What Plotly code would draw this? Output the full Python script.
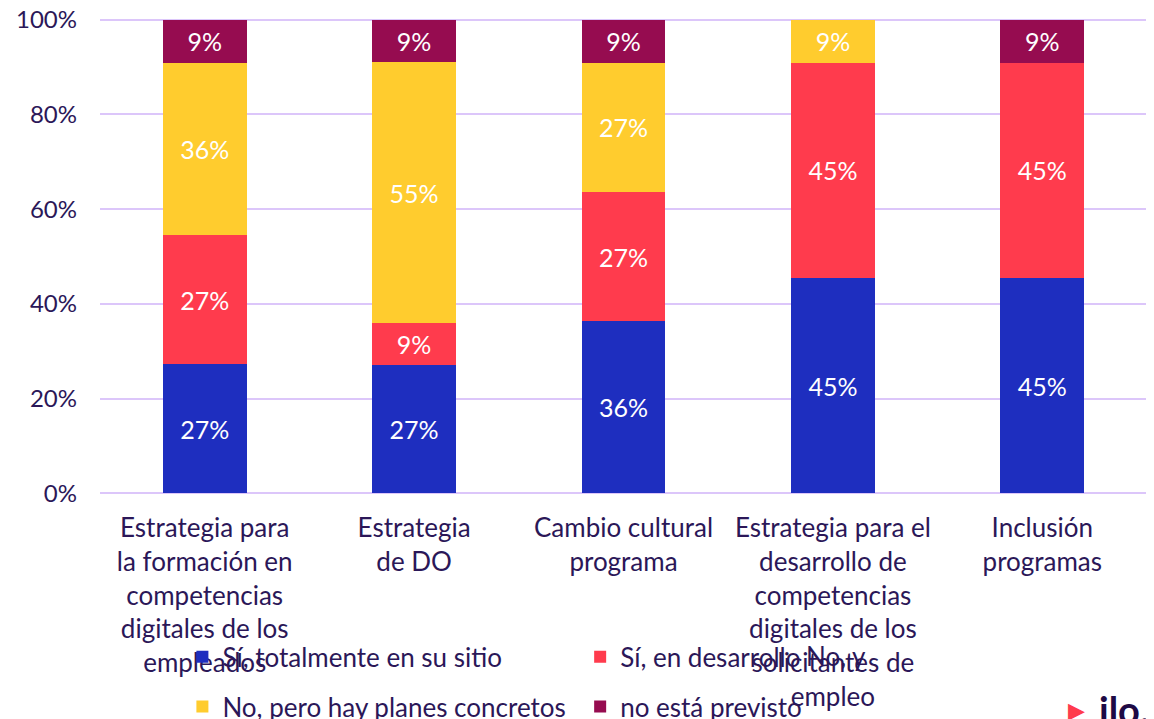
import plotly.graph_objects as go

categories = [
    "Estrategia para<br>la formación en<br>competencias<br>digitales de los<br>empleados",
    "Estrategia<br>de DO",
    "Cambio cultural<br>programa",
    "Estrategia para el<br>desarrollo de<br>competencias<br>digitales de los<br>solicitantes de<br>empleo",
    "Inclusión<br>programas",
]
series_names = [
    "Sí, totalmente en su sitio",
    "Sí, en desarrollo",
    "No, pero hay planes concretos",
    "no está previsto",
]
si_total = [27, 27, 36, 45, 45]
si_desarrollo = [27, 9, 27, 45, 45]
no_planes = [36, 55, 27, 9, 0]
no_previsto = [9, 9, 9, 0, 9]
colors = ["#1E2EBF", "#FF3B4D", "#FFCC2E", "#960C50"]
legends = ["legend", "legend2", "legend", "legend2"]

TEXT = "#2B1758"
FONT = "Lato"

# plot area in page pixels (page has an 8px body offset)
PL, PT, PW, PH = 100, 18, 1047, 477


def px(xp):
    return (xp - PL) / PW


def py(yp):
    return (PT + PH - yp) / PH


fig = go.Figure()
for i, (name, vals) in enumerate(zip(series_names, [si_total, si_desarrollo, no_planes, no_previsto])):
    fig.add_trace(go.Bar(
        x=list(range(len(categories))), y=vals, name=name,
        marker=dict(color=colors[i], line=dict(width=0)),
        text=[f"{v}%" if v else "" for v in vals],
        textposition="inside", insidetextanchor="middle",
        textfont=dict(color="white", size=25, family=FONT),
        textangle=0,
        legend=legends[i], legendgroup=f"g{i}",
    ))

fig.update_layout(
    width=1154, height=719, autosize=False,
    barmode="stack", barnorm="percent", bargap=0.6,
    plot_bgcolor="white", paper_bgcolor="white",
    margin=dict(l=92, r=15, t=10, b=232, autoexpand=False),
    font=dict(family=FONT, color=TEXT, size=26),
    uniformtext=dict(mode=False),
    xaxis=dict(
        tickmode="array", tickvals=list(range(len(categories))), ticktext=categories,
        showgrid=False, zeroline=False, showline=False,
        tickfont=dict(size=26, color=TEXT), ticklabelstandoff=15,
        range=[-0.5, 4.5], automargin=False,
    ),
    yaxis=dict(
        range=[-0.35, 100.35], tickvals=[0, 20, 40, 60, 80, 100],
        ticktext=["0%", "20%", "40%", "60%", "80%", "100%"],
        showgrid=True, gridcolor="#DCC6FA", gridwidth=2,
        zeroline=False, showline=False, automargin=False,
        tickfont=dict(size=24, color=TEXT), ticklabelstandoff=22,
        ticklabeloverflow="allow",
    ),
    legend=dict(x=0.0787, y=-0.2898, xanchor="left", yanchor="top",
                orientation="v", tracegroupgap=13,
                font=dict(size=26, color=TEXT), bgcolor="rgba(0,0,0,0)"),
    legend2=dict(x=0.4586, y=-0.2898, xanchor="left", yanchor="top",
                 orientation="v", tracegroupgap=13,
                 font=dict(size=26, color=TEXT), bgcolor="rgba(0,0,0,0)"),
    showlegend=True,
)

fig.add_annotation(text="No, y", xref="paper", yref="paper", x=px(804), y=py(656),
                   xanchor="left", yanchor="middle", showarrow=False,
                   font=dict(size=26, color=TEXT, family=FONT))
fig.add_annotation(text="▶", xref="paper", yref="paper", x=px(1076.5), y=py(710),
                   xanchor="center", yanchor="middle", showarrow=False,
                   font=dict(size=22, color="#FF3B4D", family="DejaVu Sans"))
fig.add_annotation(text="<b>ilo.o</b>",
                   xref="paper", yref="paper", x=px(1097), y=py(709),
                   xanchor="left", yanchor="middle", showarrow=False,
                   font=dict(size=38, color="#1E0A45", family=FONT))

fig.write_html("out.html")
